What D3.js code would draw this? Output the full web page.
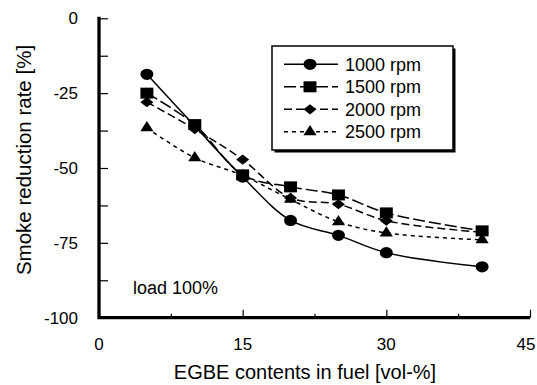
<!DOCTYPE html>
<html>
<head>
<meta charset="utf-8">
<script src="https://cdn.jsdelivr.net/npm/d3@7"></script>
<style>
  body { margin: 0; background: #fff; }
  svg text { font-family: "Liberation Sans", Arial, sans-serif; fill: #000; }
</style>
</head>
<body>
<script>
// data
var contents = [5, 10, 15, 20, 25, 30, 40];
var rpm1000 = [-18.7, -36, -53, -67.5, -72.5, -78.3, -83];
var rpm1500 = [-25, -35.5, -52.3, -56.3, -59, -65, -71];
var rpm2000 = [-28, -37, -47.2, -60, -62.1, -67.6, -71.5];
var rpm2500 = [-36.6, -46.6, -52.5, -60.5, -68, -71.7, -74];
var seriesNames = ["1000 rpm", "1500 rpm", "2000 rpm", "2500 rpm"];
var xTicks = [0, 15, 30, 45];
var yTicks = [0, -25, -50, -75, -100];

// marker shapes: symbol, size and a stretch so they come out a bit wider than tall
var marks = [
  {symbol: d3.symbolCircle, size: 100, tf: "scale(1.15,1)"},
  {symbol: d3.symbolSquare, size: 121, tf: "scale(1.18,1)"},
  {symbol: d3.symbolSquare, size: 64, tf: "scale(1.15,0.9) rotate(45)"},
  {symbol: d3.symbolTriangle, size: 75, tf: "scale(1,0.9)"}
];
var dashes = [null, "12,4", "8,4", "4,4"];

var series = seriesNames.map(function(n, i) {
  return {name: n, values: [rpm1000, rpm1500, rpm2000, rpm2500][i], mark: marks[i], dash: dashes[i]};
});

//create svg
var svg = d3.select("body").append("svg")
    .attr("width", 537)
    .attr("height", 385);

var x = d3.scaleLinear().domain([0, 45]).range([99, 530]);
var y = d3.scaleLinear().domain([-100, 0]).range([317.7, 18.3]);

var line = d3.line()
    .x(function(d) { return x(d[0]); })
    .y(function(d) { return y(d[1]); })
    .curve(d3.curveCatmullRom.alpha(0.5));

// lines
series.forEach(function(s) {
  var pts = contents.map(function(c, i) { return [c, s.values[i]]; });
  svg.append("path")
      .datum(pts)
      .attr("fill", "none")
      .attr("stroke", "#000")
      .attr("stroke-width", 1.5)
      .attr("stroke-dasharray", s.dash)
      .attr("d", line);
});

// markers, last series first so 1000 rpm ends up on top
series.slice().reverse().forEach(function(s) {
  svg.append("g").selectAll("path")
      .data(contents.map(function(c, i) { return [c, s.values[i]]; }))
      .enter().append("path")
      .attr("transform", function(d) { return "translate(" + x(d[0]) + "," + y(d[1]) + ") " + s.mark.tf; })
      .attr("d", d3.symbol().type(s.mark.symbol).size(s.mark.size))
      .attr("fill", "#000");
});

// y axis ticks
var yAxis = svg.append("g")
    .attr("transform", "translate(99,0)")
    .call(d3.axisRight(y).tickValues(d3.range(0, -101, -12.5)).tickSize(9).tickFormat(""));
yAxis.select(".domain").remove();

svg.append("g").selectAll("text")
    .data(yTicks)
    .enter().append("text")
    .attr("x", 78)
    .attr("y", function(d) { return y(d) + 6; })
    .attr("text-anchor", "end")
    .style("font-size", "17px")
    .text(function(d) { return d; });

// x axis ticks
var xAxis = svg.append("g")
    .attr("transform", "translate(0,317.7)")
    .call(d3.axisTop(x).tickValues([7.5, 22.5, 37.5]).tickSize(4).tickFormat(""));
xAxis.select(".domain").remove();
var xAxisMajor = svg.append("g")
    .attr("transform", "translate(0,317.7)")
    .call(d3.axisTop(x).tickValues(xTicks).tickSize(8).tickFormat(""));
xAxisMajor.select(".domain").remove();
svg.selectAll(".tick line").attr("stroke-width", 1.2);

svg.append("g").selectAll("text")
    .data(xTicks)
    .enter().append("text")
    .attr("x", function(d) { return Math.min(x(d), 526); })
    .attr("y", 350)
    .attr("text-anchor", "middle")
    .style("font-size", "17px")
    .text(function(d) { return d; });

// thick axis lines
svg.append("path")
    .attr("d", "M" + x(0) + "," + (y(0) - 1.5) + "V" + y(-100) + "H" + x(45))
    .attr("fill", "none")
    .attr("stroke", "#000")
    .attr("stroke-width", 3.3);

//add x-axis label
svg.append("text")
    .attr("x", 305)
    .attr("y", 379)
    .attr("text-anchor", "middle")
    .style("font-size", "20px")
    .text("EGBE contents in fuel [vol-%]");

//add y-axis label
svg.append("text")
    .attr("transform", "translate(31,160) rotate(-90)")
    .attr("text-anchor", "middle")
    .style("font-size", "20.5px")
    .text("Smoke reduction rate [%]");

svg.append("text")
    .attr("x", 133)
    .attr("y", 294)
    .style("font-size", "18px")
    .text("load 100%");

// legend
var lg = svg.append("g");
lg.append("rect")
    .attr("x", 274.5).attr("y", 48.5).attr("width", 181).attr("height", 104)
    .attr("fill", "#000");
lg.append("rect")
    .attr("x", 272).attr("y", 46).attr("width", 181).attr("height", 104)
    .attr("fill", "#fff").attr("stroke", "#000").attr("stroke-width", 1.5);

series.forEach(function(s, i) {
  var ly = 64.3 + i * 22.5;
  lg.append("line")
      .attr("x1", 284).attr("x2", 338).attr("y1", ly).attr("y2", ly)
      .attr("stroke", "#000").attr("stroke-width", 1.5)
      .attr("stroke-dasharray", s.dash);
  lg.append("path")
      .attr("transform", "translate(310," + ly + ") " + s.mark.tf)
      .attr("d", d3.symbol().type(s.mark.symbol).size(s.mark.size))
      .attr("fill", "#000");
  lg.append("text")
      .attr("x", 345)
      .attr("y", ly + 6.5)
      .style("font-size", "18px")
      .text(s.name);
});
</script>
</body>
</html>
